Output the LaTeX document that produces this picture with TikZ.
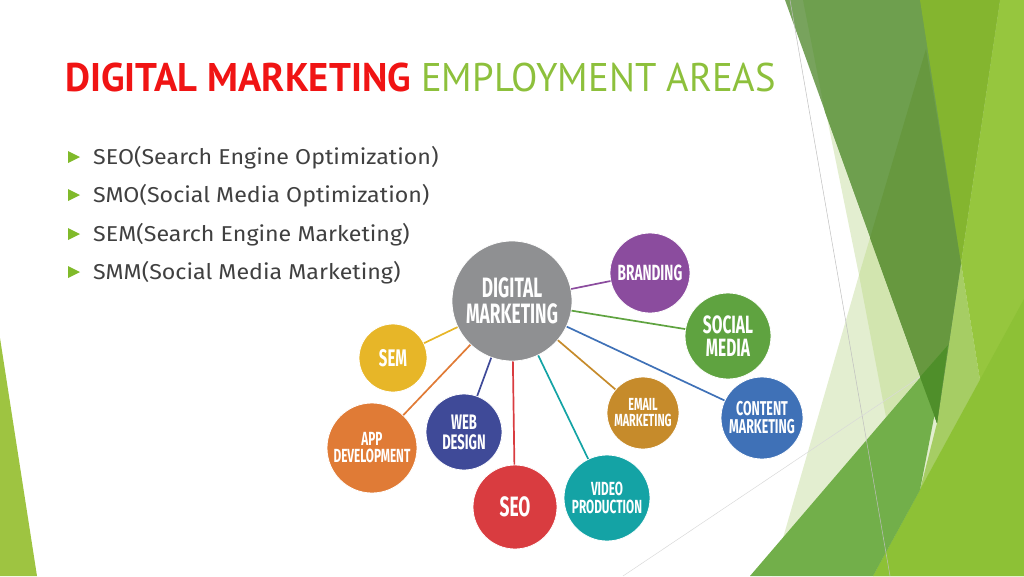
\documentclass[tikz,border=0pt]{standalone}
\usepackage{fontspec}
\setmainfont{Fira Sans}
\newfontfamily\titlefont[FakeStretch=0.965]{PT Sans}
\newfontfamily\bodyfont[FakeStretch=1.08]{Fira Sans}
\newfontfamily\bubblefont[FakeStretch=0.62]{Fira Sans}
\usepackage{xcolor}
\usetikzlibrary{positioning}
\definecolor{titlered}{HTML}{F01414}
\definecolor{titlegreen}{HTML}{8DC03C}
\definecolor{bodygray}{HTML}{404040}
\definecolor{bulletgreen}{HTML}{80BA2A}
\definecolor{leafgreen}{HTML}{9EC441}
\definecolor{paleA}{HTML}{E3EED0}
\definecolor{paleB}{HTML}{D2E5AF}
\definecolor{paleband}{HTML}{A6CD64}
\definecolor{facetgray}{HTML}{78A35D}
\definecolor{facetmid}{HTML}{6E9F4E}
\definecolor{facetdark}{HTML}{67983F}
\definecolor{limemid}{HTML}{84B52F}
\definecolor{limebright}{HTML}{96C63E}
\definecolor{limelow}{HTML}{8DC136}
\definecolor{grassgreen}{HTML}{72AF4A}
\definecolor{deepgreen}{HTML}{4F8F2A}
\definecolor{dmgray}{HTML}{8F9092}
\definecolor{brandpurple}{HTML}{8B4C9E}
\definecolor{socialgreen}{HTML}{5FA340}
\definecolor{contentblue}{HTML}{3F71B7}
\definecolor{emailochre}{HTML}{C68B2B}
\definecolor{videoteal}{HTML}{14A3A5}
\definecolor{seored}{HTML}{D93C40}
\definecolor{webindigo}{HTML}{3F4A98}
\definecolor{apporange}{HTML}{E07B36}
\definecolor{semyellow}{HTML}{E7B628}
\tikzset{bubble/.style={draw=white, line width=0.8pt, circle, inner sep=0pt,
		align=center, text=white},
	link/.style={draw, line width=1.7pt},
	bulletitem/.style={anchor=base west, inner sep=0pt, text=bodygray,
		font=\bodyfont\fontsize{21.5}{24}\selectfont},
	hairline/.style={draw=black!25, line width=0.5pt}}

\begin{document}
\begin{tikzpicture}[x=1pt,y=-1pt]
	\useasboundingbox(0,0)rectangle(1024,576);
	% facets
	\fill[leafgreen](0,338)--(37,576)--(0,576)--cycle;
	\fill[paleA](803,0)--(926,49)--(980,380)--(873,576)--(772,576)--(859,275)--cycle;
	\fill[paleB](870,238)--(859,275)--(886,417)--(920,377)--cycle;
	\fill[paleband](961,263)--(980,380)--(920,490)--(937,423)--cycle;
	\fill[facetgray](785,0)--(1000,0)--(937,423)--cycle;
	\fill[facetmid](803,0)--(1000,0)--(937,423)--(825,112)--cycle;
	\fill[facetdark](926,49)--(961,263)--(937,423)--(870,238)--cycle;
	\fill[limemid](920,0)--(1000,0)--(961,263)--cycle;
	\fill[limebright](1000,0)--(1024,0)--(1024,576)--(873,576)--(980,380)--(961,263)--cycle;
	\fill[limelow](873,576)--(1024,299)--(1024,576)--cycle;
	\fill[grassgreen](750,576)--(948,345)--(920,490)--(873,576)--cycle;
	\fill[deepgreen](920,377)--(948,345)--(937,423)--cycle;
	\draw[hairline](790,0)--(890,576);
	\draw[hairline,draw=black!15](623,576)--(920,377);
	
	\node[anchor=base west,inner sep=0pt,font=\titlefont\fontsize{40}{42}\selectfont](title)at(65,91)
	{\textcolor{titlered}{\bfseries DIGITAL MARKETING} \textcolor{titlegreen}{EMPLOYMENT AREAS}};
	\foreach \y/\t [count=\i] in{157/SEO(Search Engine Optimization),195/SMO(Social Media Optimization),
		234/SEM(Search Engine Marketing),272/SMM(Social Media Marketing)}
	{\fill[bulletgreen](68,\y-6)--(80,\y)--(68,\y+6)--cycle;
		\node[bulletitem](b\i)at(93,\y+7){\t};}
	
	\foreach \n/\p/\d/\c/\f/\l/\t in{dm/{512,301}/120pt/dmgray/28/26/{DIGITAL\\MARKETING},
		brand/{650,273}/80pt/brandpurple/22/20/{BRANDING},
		social/{728,336}/86pt/socialgreen/25/23/{SOCIAL\\MEDIA},
		content/{762,418}/82pt/contentblue/20/18/{CONTENT\\MARKETING},
		email/{643,413}/72pt/emailochre/17.5/16/{EMAIL\\MARKETING},
		video/{607,498}/86pt/videoteal/19/18/{VIDEO\\PRODUCTION},
		seo/{515,507}/84pt/seored/28/25/{SEO},
		web/{464,432}/76pt/webindigo/21/20/{WEB\\DESIGN},
		app/{372,448}/90pt/apporange/19/17/{APP\\DEVELOPMENT},
		sem/{393,358}/68pt/semyellow/24/22/{SEM}}
	\node[bubble,fill=\c,minimum size=\d,font=\bubblefont\bfseries\fontsize{\f}{\l}\selectfont](\n)at(\p){\t};
	\foreach \n/\c in{brand/brandpurple,social/socialgreen,content/contentblue,email/emailochre,
		video/videoteal,seo/seored,web/webindigo,app/apporange,sem/semyellow}
	\draw[link,\c](dm)--(\n);
\end{tikzpicture}
\end{document}
